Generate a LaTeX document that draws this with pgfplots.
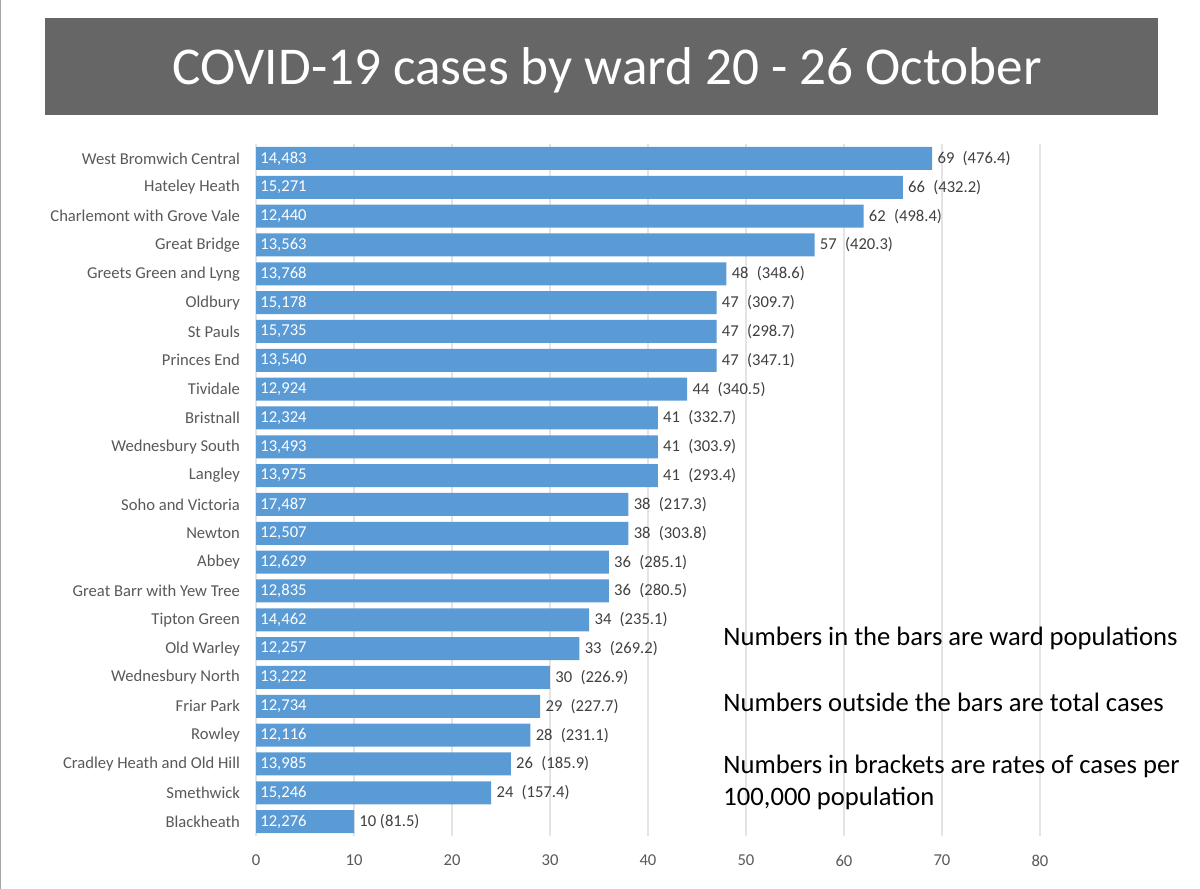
\documentclass[border=0pt]{standalone}
\usepackage{fontspec}
\setmainfont{Carlito}
\usepackage{pgfplots}
\usepackage{pgfplotstable}
\pgfplotsset{compat=1.18}
\definecolor{barblue}{HTML}{5B9BD5}
\definecolor{titlegray}{HTML}{666666}
\definecolor{labgray}{HTML}{595959}
\definecolor{outgray}{HTML}{404040}
\definecolor{gridgray}{HTML}{E4E4E4}
\pgfplotstableread[col sep=semicolon]{
idx;name;cases;pop;lab
0;West Bromwich Central;69;14,483;69\enspace(476.4)
1;Hateley Heath;66;15,271;66\enspace(432.2)
2;Charlemont with Grove Vale;62;12,440;62\enspace(498.4)
3;Great Bridge;57;13,563;57\enspace(420.3)
4;Greets Green and Lyng;48;13,768;48\enspace(348.6)
5;Oldbury;47;15,178;47\enspace(309.7)
6;St Pauls;47;15,735;47\enspace(298.7)
7;Princes End;47;13,540;47\enspace(347.1)
8;Tividale;44;12,924;44\enspace(340.5)
9;Bristnall;41;12,324;41\enspace(332.7)
10;Wednesbury South;41;13,493;41\enspace(303.9)
11;Langley;41;13,975;41\enspace(293.4)
12;Soho and Victoria;38;17,487;38\enspace(217.3)
13;Newton;38;12,507;38\enspace(303.8)
14;Abbey;36;12,629;36\enspace(285.1)
15;Great Barr with Yew Tree;36;12,835;36\enspace(280.5)
16;Tipton Green;34;14,462;34\enspace(235.1)
17;Old Warley;33;12,257;33\enspace(269.2)
18;Wednesbury North;30;13,222;30\enspace(226.9)
19;Friar Park;29;12,734;29\enspace(227.7)
20;Rowley;28;12,116;28\enspace(231.1)
21;Cradley Heath and Old Hill;26;13,985;26\enspace(185.9)
22;Smethwick;24;15,246;24\enspace(157.4)
23;Blackheath;10;12,276;10 (81.5)
}\data
\begin{document}
\begin{tikzpicture}
\useasboundingbox (0,0) rectangle (600pt,444.5pt);
\fill[white] (0,0) rectangle (600pt,444.5pt);
\draw[gray!70, line width=0.6pt] (0.3pt,0) -- (0.3pt,444.5pt);
\fill[titlegray] (22.5pt,387pt) rectangle (579pt,435.5pt);
\node[white, font=\fontsize{26.6}{30}\selectfont] at (303.5pt,409.5pt) {COVID-19 cases by ward 20 - 26 October};
\begin{axis}[
  at={(128pt,26.5pt)}, anchor=south west,
  scale only axis, width=392pt, height=346pt,
  xmin=0, xmax=80, ymin=-0.5, ymax=23.5,
  y dir=reverse,
  axis line style={draw=none},
  xtick={0,10,...,80},
  ytick={0,...,23},
  yticklabels from table={\data}{name},
  major tick length=0pt,
  xmajorgrids, grid style={gridgray, line width=0.7pt},
  tick label style={font=\fontsize{8.3}{10}\selectfont, text=labgray},
  /pgf/number format/assume math mode=true,
  yticklabel style={xshift=-4.5pt},
  xticklabel style={yshift=-6pt},
  clip=false,
]
\addplot[xbar, fill=barblue, draw=none, bar width=11.5pt,
  nodes near coords, point meta=explicit symbolic,
  nodes near coords style={font=\fontsize{8.3}{10}\selectfont, text=outgray, anchor=west, inner sep=2.5pt}]
  table[x=cases, y=idx, meta=lab]{\data};
\addplot[only marks, mark=none,
  nodes near coords, point meta=explicit symbolic,
  nodes near coords style={font=\fontsize{8.3}{10}\selectfont, text=white, anchor=west, inner sep=2pt}]
  table[x expr=0, y=idx, meta=pop]{\data};
\end{axis}
\begin{scope}[every node/.style={anchor=west, inner sep=0pt, font=\fontsize{13.3}{16}\selectfont, text=black}]
\node at (361.5pt,125.5pt) {Numbers in the bars are ward populations};
\node at (361.5pt,93.5pt) {Numbers outside the bars are total cases};
\node at (361.5pt,61.5pt) {Numbers in brackets are rates of cases per};
\node at (361.5pt,45.5pt) {100,000 population};
\end{scope}
\end{tikzpicture}
\end{document}
